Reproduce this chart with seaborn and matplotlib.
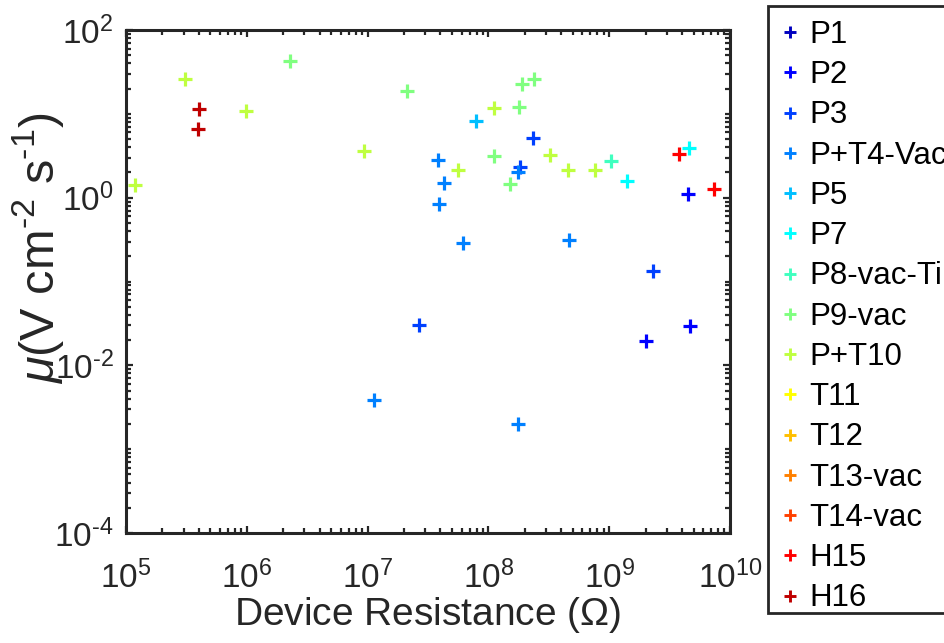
import numpy as np
import pandas as pd
import matplotlib
matplotlib.use("Agg")
import matplotlib.pyplot as plt
from matplotlib.lines import Line2D
from matplotlib.patches import Rectangle
from matplotlib.ticker import LogLocator, FixedLocator, FuncFormatter, NullFormatter
import seaborn as sns

# ---- data ----
series_names = ["P1", "P2", "P3", "P+T4-Vac", "P5", "P7", "P8-vac-Ti", "P9-vac",
                "P+T10", "T11", "T12", "T13-vac", "T14-vac", "H15", "H16"]
series_colors = ["#0000bf", "#0000ff", "#0040ff", "#0080ff", "#00bfff", "#00ffff",
                 "#40ffbf", "#80ff80", "#bfff40", "#ffff00", "#ffbf00", "#ff8000",
                 "#ff4000", "#ff0000", "#bf0000"]

P2_R = [4.49e9, 2.02e9, 4.67e9]
P2_mu = [1.10, 0.0194, 0.0294]
P3_R = [2.34e8, 1.83e8, 2.66e7, 2.31e9]
P3_mu = [5.14, 2.32, 0.0302, 0.133]
PT4_R = [3.83e7, 1.76e8, 4.29e7, 3.90e7, 6.17e7, 4.65e8, 1.13e7, 1.76e8]
PT4_mu = [2.81, 2.02, 1.49, 0.84, 0.287, 0.312, 0.00385, 0.00199]
P5_R = [7.89e7]
P5_mu = [8.2]
P7_R = [1.40e9, 4.58e9]
P7_mu = [1.58, 3.91]
P8_R = [1.04e9]
P8_mu = [2.74]
P9_R = [2.28e6, 2.12e7, 1.79e8, 1.11e8, 1.51e8, 1.90e8, 2.38e8]
P9_mu = [42.7, 18.7, 12.0, 3.13, 1.45, 22.7, 26.0]
PT10_R = [1.19e5, 3.08e5, 9.84e5, 9.33e6, 1.11e8, 5.60e7, 3.24e8, 4.56e8, 7.62e8]
PT10_mu = [1.41, 26.0, 10.8, 3.60, 11.7, 2.13, 3.22, 2.13, 2.13]
H15_R = [3.78e9, 7.38e9]
H15_mu = [3.31, 1.27]
H16_R = [4.02e5, 3.94e5]
H16_mu = [11.4, 6.59]

groups = [("P2", P2_R, P2_mu), ("P3", P3_R, P3_mu), ("P+T4-Vac", PT4_R, PT4_mu),
          ("P5", P5_R, P5_mu), ("P7", P7_R, P7_mu), ("P8-vac-Ti", P8_R, P8_mu),
          ("P9-vac", P9_R, P9_mu), ("P+T10", PT10_R, PT10_mu),
          ("H15", H15_R, H15_mu), ("H16", H16_R, H16_mu)]
rows = []
for name, rs, ms in groups:
    for r, m in zip(rs, ms):
        rows.append({"series": name, "R": r, "mu": m})
df = pd.DataFrame(rows)
palette = dict(zip(series_names, series_colors))

# ---- style ----
sns.set_style("ticks")
plt.rcParams["font.family"] = ["Liberation Sans", "DejaVu Sans"]
plt.rcParams["mathtext.fontset"] = "custom"
plt.rcParams["mathtext.rm"] = "Liberation Sans"
plt.rcParams["mathtext.it"] = "Liberation Sans:italic"
plt.rcParams["mathtext.sf"] = "Liberation Sans"

TXT = "#262626"
W, H = 945, 643

fig = plt.figure(figsize=(9.45, 6.43), dpi=100)
ax = fig.add_axes([126 / W, 1 - 533 / H, 604 / W, 503 / H])

sns.scatterplot(data=df, x="R", y="mu", hue="series", hue_order=series_names,
                palette=palette, marker="+", s=100, linewidth=2.3, legend=False, ax=ax)

ax.set_xscale("log")
ax.set_yscale("log")
ax.set_xlim(1e5, 1e10)
ax.set_ylim(1e-4, 1e2)


def pow_fmt(v, pos):
    e = int(round(np.log10(v)))
    if e < 0:
        return "10$^{\\text{-}%d}$" % (-e)
    return "10$^{%d}$" % e


ax.xaxis.set_major_locator(FixedLocator([1e5, 1e6, 1e7, 1e8, 1e9, 1e10]))
ax.yaxis.set_major_locator(FixedLocator([1e-4, 1e-2, 1e0, 1e2]))
ax.xaxis.set_minor_locator(LogLocator(base=10, subs=np.arange(1, 10), numticks=100))
ax.yaxis.set_minor_locator(LogLocator(base=10, subs=np.arange(1, 10), numticks=100))
ax.xaxis.set_major_formatter(FuncFormatter(pow_fmt))
ax.yaxis.set_major_formatter(FuncFormatter(pow_fmt))
ax.xaxis.set_minor_formatter(NullFormatter())
ax.yaxis.set_minor_formatter(NullFormatter())

for sp in ax.spines.values():
    sp.set_visible(True)
    sp.set_linewidth(2.2)
    sp.set_color(TXT)
ax.tick_params(which="both", direction="in", top=True, right=True, color=TXT, width=1.6)
ax.tick_params(which="major", length=5, labelsize=24, labelcolor=TXT)
ax.tick_params(axis="x", which="major", pad=20)
ax.tick_params(axis="y", which="major", pad=9)
ax.tick_params(which="minor", length=3.5)

ax.set_xlabel("Device Resistance ($\\Omega$)", fontsize=28, color=TXT, labelpad=0)
ax.set_ylabel("")
fig.text(38 / W, 1 - 248 / H, "$\\mu$(V cm$^{\\text{-}2}$ s$^{\\text{-}1}$)",
         rotation=90, ha="center", va="center", fontsize=35, color=TXT)

# legend (box drawn separately so it runs off the right edge like the reference)
fig.patches.append(Rectangle((768 / W, 1 - 613 / H), 200 / W, 607 / H,
                             transform=fig.transFigure, fill=True, facecolor="white",
                             edgecolor=TXT, linewidth=2.0, zorder=1))
handles = [Line2D([], [], linestyle="none", marker="+", markersize=8.5,
                  markeredgewidth=2.1, color=c) for c in series_colors]
leg = fig.legend(handles, series_names, loc="upper left",
                 bbox_to_anchor=(768 / W, 1 - 9 / H), borderaxespad=0,
                 fontsize=22.5, frameon=False, handlelength=0.7, handletextpad=0.28,
                 labelspacing=0.328, borderpad=0.35, labelcolor="black")
leg.set_zorder(5)

fig.savefig("out.png", dpi=100)
